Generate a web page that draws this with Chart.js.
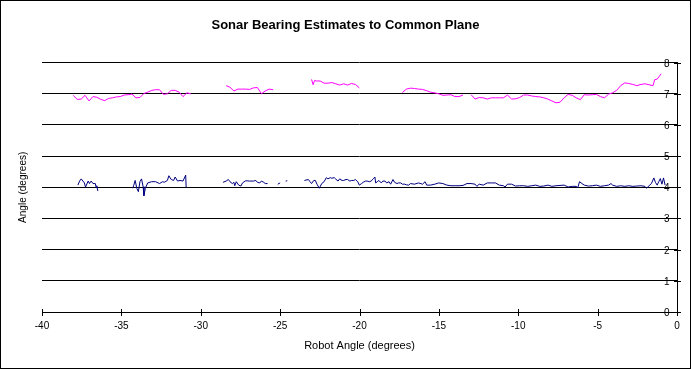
<!DOCTYPE html>
<html>
<head>
<meta charset="utf-8">
<script src="https://cdn.jsdelivr.net/npm/chart.js@4.4.0/dist/chart.umd.min.js"></script>
<style>
  html, body { margin: 0; padding: 0; background: #fff; }
  #wrap { width: 691px; height: 369px; }
</style>
</head>
<body>
<div id="wrap"><canvas id="chartSonar" width="691" height="369"></canvas></div>
<script>
// Data (null = celah pada garis)
const magentaX = [
  -38.03, -37.78, -37.53, -37.29, -37.04, -36.79, -36.55, -36.30, -36.05, -35.81, -35.56, -35.31, -35.07, -34.82, -34.57, -34.33,
  -34.08, -33.83, -33.58, -33.34, -33.09, -32.84, -32.60, -32.35, -32.10, -31.86, -31.61, -31.36, -31.12, -30.87, -30.62,
  -29.6,
  -28.40, -28.16, -27.91, -27.66, -27.42, -27.17, -26.92, -26.68, -26.43, -26.18, -25.94, -25.69, -25.44,
  -24.2,
  -23.02, -22.92, -22.83, -22.73, -22.48, -22.23, -21.99, -21.74, -21.49, -21.25, -21.00, -20.75, -20.51, -20.26, -20.01,
  -18.8,
  -17.30, -17.05, -16.79, -16.54, -16.28, -16.03, -15.77, -15.52, -15.26, -15.01, -14.75, -14.50, -14.24, -13.99, -13.73, -13.48,
  -13.33,
  -12.97, -12.72, -12.46, -12.21, -11.95, -11.70, -11.44, -11.19, -10.93, -10.68, -10.42, -10.17, -9.91, -9.66, -9.40, -9.15,
  -8.90, -8.64, -8.39, -8.13, -7.88, -7.62, -7.37, -7.11, -6.86, -6.60, -6.35, -6.09, -5.84, -5.58, -5.33, -5.08,
  -4.82, -4.57, -4.31, -4.06, -3.80, -3.55, -3.29, -3.04, -2.78, -2.53, -2.27, -2.02, -1.76, -1.51, -1.41, -1.25, -1.00
];
const magentaY = [
  6.95, 6.82, 6.83, 6.95, 6.77, 6.91, 6.89, 6.82, 6.78, 6.85, 6.87, 6.90, 6.91, 6.96, 6.97, 6.99,
  6.87, 6.88, 7.01, 7.05, 7.11, 7.13, 7.13, 6.98, 7.00, 7.11, 7.11, 7.05, 6.91, 7.03, 7.00,
  null,
  7.26, 7.21, 7.09, 7.15, 7.15, 7.15, 7.14, 7.19, 7.20, 7.00, 7.09, 7.15, 7.13,
  null,
  7.46, 7.29, 7.43, 7.41, 7.41, 7.34, 7.34, 7.36, 7.32, 7.28, 7.32, 7.28, 7.33, 7.30, 7.19,
  null,
  7.04, 7.15, 7.18, 7.17, 7.15, 7.14, 7.10, 7.05, 7.03, 7.00, 6.95, 6.96, 6.97, 6.91, 6.91, 6.96,
  null,
  6.97, 6.83, 6.88, 6.87, 6.83, 6.87, 6.87, 6.87, 6.87, 6.96, 6.83, 6.84, 6.88, 6.96, 6.96, 6.93,
  6.91, 6.90, 6.87, 6.83, 6.77, 6.71, 6.73, 6.87, 6.98, 6.95, 6.87, 6.81, 6.97, 6.96, 6.97, 6.98,
  6.91, 6.87, 6.99, 7.03, 7.11, 7.26, 7.35, 7.33, 7.30, 7.26, 7.30, 7.32, 7.29, 7.26, 7.45, 7.47, 7.64
];

const navyX = [
  -37.74, -37.63, -37.53, -37.33, -37.26, -37.09, -37.01, -36.90, -36.79, -36.64, -36.59, -36.55, -36.48,
  -35.1,
  -34.28, -34.23, -34.13, -34.03, -33.93, -33.83, -33.73, -33.63, -33.58, -33.49, -33.34, -33.09, -32.84, -32.60,
  -32.40, -32.30, -32.10, -32.01, -31.86, -31.71, -31.61, -31.46, -31.31, -31.12, -30.95, -30.92,
  -29.6,
  -28.60, -28.40, -28.26, -28.16, -28.01, -27.91, -27.86, -27.76, -27.61, -27.47, -27.37, -27.17, -26.92, -26.68,
  -26.53, -26.43, -26.28, -26.18, -26.03, -25.94, -25.79,
  -25.4,
  -25.15, -25.00,
  -24.8,
  -24.65, -24.55,
  -24.0,
  -23.47, -23.22, -23.12, -23.02, -22.88, -22.78, -22.68, -22.53, -22.38, -22.23, -22.09, -21.99, -21.84, -21.74,
  -21.59, -21.49, -21.35, -21.25, -21.10, -21.00, -20.85, -20.75, -20.61, -20.51, -20.36, -20.26, -20.11, -20.01,
  -19.87, -19.77, -19.62, -19.52, -19.37, -19.27, -19.13, -19.03, -18.98, -18.88, -18.78, -18.63, -18.53, -18.39,
  -18.29, -18.14, -18.04, -17.89, -17.79, -17.64, -17.55, -17.40, -17.30, -17.15, -17.05, -16.90,
  -16.79, -16.54, -16.28, -16.03, -15.87, -15.77, -15.52, -15.26, -15.01, -14.75, -14.50, -14.24, -13.99, -13.73,
  -13.48, -13.23, -12.97, -12.72, -12.61, -12.46, -12.21, -11.95, -11.70, -11.44, -11.19, -10.93, -10.83, -10.68,
  -10.42, -10.17, -9.91, -9.66, -9.40, -9.15, -8.90, -8.64, -8.39, -8.13, -7.88, -7.62, -7.37, -7.11, -6.86, -6.60,
  -6.35, -6.25, -6.14, -5.99, -5.84, -5.58, -5.33, -5.08, -4.82, -4.57, -4.31, -4.16, -4.06, -3.80, -3.55, -3.29,
  -3.04, -2.78, -2.53, -2.27, -2.02, -1.92, -1.76, -1.61, -1.46, -1.36, -1.25, -1.15, -1.05, -0.95, -0.85, -0.75
];
const navyY = [
  4.07, 4.20, 4.27, 4.14, 4.01, 4.20, 4.12, 4.20, 4.12, 4.12, 3.99, 4.05, 3.88,
  null,
  3.97, 4.05, 4.22, 3.97, 3.86, 4.18, 4.27, 4.02, 3.73, 3.97, 4.14, 4.18, 4.18, 4.12,
  4.18, 4.16, 4.22, 4.37, 4.25, 4.22, 4.33, 4.20, 4.22, 4.20, 4.39, 4.01,
  null,
  4.16, 4.20, 4.25, 4.18, 4.12, 4.16, 4.05, 4.18, 4.07, 4.04, 4.14, 4.21, 4.20, 4.20,
  4.22, 4.16, 4.14, 4.20, 4.16, 4.12, 4.12,
  null,
  4.10, 4.14,
  null,
  4.20, 4.21,
  null,
  4.22, 4.25, 4.18, 4.12, 4.22, 4.22, 4.10, 3.97, 4.12, 4.18, 4.31, 4.27, 4.31, 4.29,
  4.31, 4.26, 4.20, 4.27, 4.22, 4.22, 4.25, 4.25, 4.20, 4.22, 4.22, 4.25, 4.18, 4.07,
  4.12, 4.16, 4.20, 4.20, 4.18, 4.20, 4.27, 4.33, 4.14, 4.18, 4.22, 4.14, 4.20, 4.20,
  4.14, 4.18, 4.10, 4.25, 4.16, 4.12, 4.14, 4.14, 4.10, 4.10, 4.08, 4.07,
  4.12, 4.10, 4.14, 4.10, 4.18, 4.07, 4.07, 4.10, 4.14, 4.12, 4.07, 4.05, 4.05, 4.05,
  4.06, 4.12, 4.12, 4.10, 4.03, 4.10, 4.07, 4.14, 4.14, 4.14, 4.07, 4.05, 4.01, 4.10,
  4.10, 4.04, 4.05, 4.05, 4.03, 4.05, 4.07, 4.03, 4.04, 4.07, 4.03, 4.05, 4.06, 4.07, 4.01, 4.03,
  4.03, 3.99, 4.18, 4.12, 4.07, 4.04, 4.05, 4.07, 4.03, 4.05, 4.07, 4.12, 4.07, 4.03, 4.05, 4.03,
  4.05, 4.03, 4.04, 4.05, 4.03, 3.97, 4.05, 4.12, 4.30, 4.16, 4.07, 4.18, 4.28, 4.10, 4.30, 4.07
];

const xTicks = [-40, -35, -30, -25, -20, -15, -10, -5, 0];
const yTicks = [0, 1, 2, 3, 4, 5, 6, 7, 8];

function gabung(xs, ys) {
  return xs.map((x, i) => ({ x: x, y: ys[i] }));
}

const FONT = "'Liberation Sans', Arial, sans-serif";

// Latar putih, tick silang, label sumbu y dan bingkai luar
const bingkai = {
  id: "bingkai",
  beforeDraw(chart) {
    const c = chart.ctx;
    c.save();
    c.fillStyle = "#fff";
    c.fillRect(0, 0, chart.width, chart.height);
    c.restore();
  },
  afterDraw(chart) {
    const c = chart.ctx;
    const sx = chart.scales.x;
    const sy = chart.scales.y;
    c.save();
    c.strokeStyle = "#000";
    c.lineWidth = 1;
    const y0 = Math.round(sy.getPixelForValue(0)) + 0.5;
    xTicks.forEach(v => {
      const px = Math.round(sx.getPixelForValue(v)) + 0.5;
      c.beginPath();
      c.moveTo(px, y0 - 3.5);
      c.lineTo(px, y0 + 3.5);
      c.stroke();
    });
    const x0 = Math.round(sx.getPixelForValue(0)) + 0.5;
    c.fillStyle = "#000";
    c.font = "10px " + FONT;
    c.textAlign = "right";
    c.textBaseline = "middle";
    yTicks.forEach(v => {
      const py = Math.round(sy.getPixelForValue(v)) + 0.5;
      c.beginPath();
      c.moveTo(x0 - 3.5, py);
      c.lineTo(x0 + 3.5, py);
      c.stroke();
      c.fillText(String(v), x0 - 8, py + 0.5);
    });
    // judul sumbu y
    c.textAlign = "center";
    c.translate(23, (chart.chartArea.top + chart.chartArea.bottom) / 2);
    c.rotate(-Math.PI / 2);
    c.fillText("Angle (degrees)", 0, 0);
    c.restore();
    c.save();
    c.strokeStyle = "#000";
    c.strokeRect(0.5, 0.5, chart.width - 1, chart.height - 1);
    c.restore();
  }
};

Chart.defaults.font.family = FONT;
Chart.defaults.color = "#000";

const ctx = document.getElementById("chartSonar").getContext("2d");
window.chartSonar = new Chart(ctx, {
  type: "line",
  data: {
    datasets: [
      {
        label: "Plane A",
        data: gabung(magentaX, magentaY),
        borderColor: "#ff00ff",
        borderWidth: 1,
        pointRadius: 0,
        tension: 0,
        spanGaps: false
      },
      {
        label: "Plane B",
        data: gabung(navyX, navyY),
        borderColor: "#000080",
        borderWidth: 1,
        pointRadius: 0,
        tension: 0,
        spanGaps: false
      }
    ]
  },
  options: {
    responsive: false,
    animation: false,
    layout: {
      padding: { left: 0, right: 0, top: 0, bottom: 16.5 }
    },
    plugins: {
      legend: { display: false },
      tooltip: { enabled: false },
      title: {
        display: true,
        text: "Sonar Bearing Estimates to Common Plane",
        font: { size: 13, weight: "bold" },
        color: "#000",
        padding: { top: 18, bottom: 29 }
      }
    },
    scales: {
      x: {
        type: "linear",
        min: -40,
        max: 0,
        afterBuildTicks: scale => { scale.ticks = xTicks.map(v => ({ value: v })); },
        afterFit: scale => { scale.height = 40.5; },
        ticks: { font: { size: 10 }, padding: 8, color: "#000", maxRotation: 0 },
        grid: { display: false, drawTicks: false },
        border: { display: true, color: "#000", width: 1 },
        title: {
          display: true,
          text: "Robot Angle (degrees)",
          font: { size: 11 },
          color: "#000",
          padding: { top: 7.5, bottom: 0 }
        }
      },
      y: {
        position: "right",
        min: 0,
        max: 8,
        afterBuildTicks: scale => { scale.ticks = yTicks.map(v => ({ value: v })); },
        afterFit: scale => { scale.width = 14; },
        ticks: { display: false },
        grid: { color: "#000", lineWidth: 1, drawTicks: false },
        border: { display: true, color: "#000", width: 1 }
      },
      // ruang kosong di kiri untuk judul sumbu y
      kiri: {
        position: "left",
        display: true,
        afterFit: scale => { scale.width = 42; },
        ticks: { display: false },
        grid: { display: false, drawTicks: false },
        border: { display: false }
      }
    }
  },
  plugins: [bingkai]
});
</script>
</body>
</html>
